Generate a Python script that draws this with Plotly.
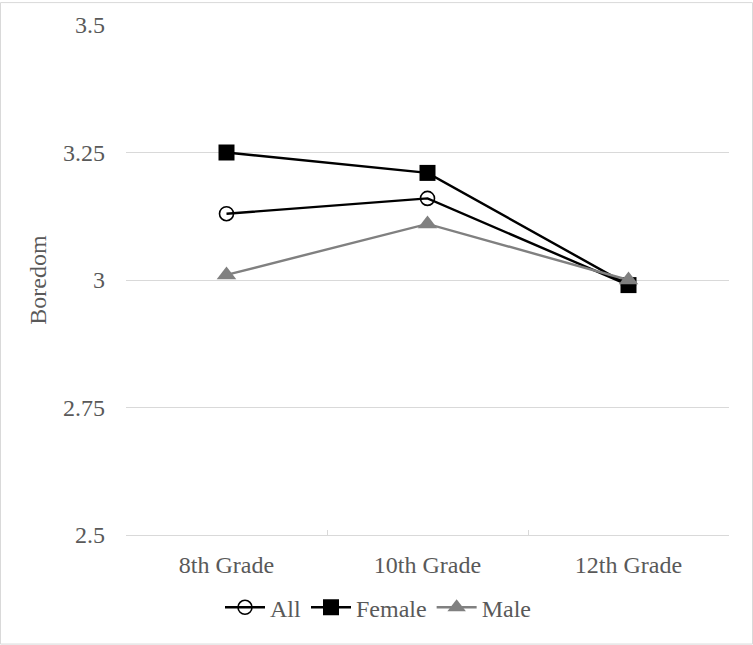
import plotly.graph_objects as go

categories = ["8th Grade", "10th Grade", "12th Grade"]
all_vals = [3.13, 3.16, 2.99]
female_vals = [3.25, 3.21, 2.99]
male_vals = [3.01, 3.11, 3.00]
y_ticks = [2.5, 2.75, 3, 3.25, 3.5]
y_tick_labels = ["2.5", "2.75", "3", "3.25", "3.5"]

W, H = 753, 645
L, R, T, B = 126, 24, 23, 110
pw, ph = W - L - R, H - T - B

font = dict(family="Liberation Serif, Times New Roman, serif", size=24, color="#595959")

fig = go.Figure()
fig.add_trace(go.Scatter(x=categories, y=all_vals, name="All", mode="lines+markers",
                         line=dict(color="black", width=2.4),
                         marker=dict(symbol="circle-open", size=14, color="black", line=dict(width=1.6))))
fig.add_trace(go.Scatter(x=categories, y=female_vals, name="Female", mode="lines+markers",
                         line=dict(color="black", width=2.4),
                         marker=dict(symbol="square", size=16, color="black")))
fig.add_trace(go.Scatter(x=categories, y=male_vals, name="Male", mode="lines+markers",
                         line=dict(color="#808080", width=2.4),
                         marker=dict(symbol="triangle-up", size=17, color="#808080")))

def px_to_paper_x(p):
    return (p - L) / pw

def px_to_paper_y(p):
    return (H - B - p) / ph

fig.update_layout(
    width=W, height=H,
    margin=dict(l=L, r=R, t=T, b=B),
    paper_bgcolor="white", plot_bgcolor="white",
    font=font,
    showlegend=True,
    legend=dict(orientation="h", x=px_to_paper_x(378), xanchor="center", y=px_to_paper_y(608),
                yanchor="middle", font=font, itemwidth=40, tracegroupgap=0,
                bgcolor="rgba(0,0,0,0)"),
    xaxis=dict(type="category", range=[-0.5, 2.5], showgrid=False, showline=True,
               linecolor="#d9d9d9", linewidth=1.3, ticks="inside", tickson="boundaries",
               ticklen=5, tickcolor="#d9d9d9", tickfont=font, zeroline=False,
               ticklabelstandoff=8),
    yaxis=dict(range=[2.5, 3.5], tickvals=y_ticks, ticktext=y_tick_labels, showgrid=True,
               gridcolor="#d9d9d9", gridwidth=1.3, showline=False, zeroline=False,
               ticks="", tickfont=font, ticklabelstandoff=20,
               title=dict(text="Boredom", font=font, standoff=9)),
    shapes=[dict(type="rect", xref="paper", yref="paper",
                 x0=px_to_paper_x(0.5), x1=px_to_paper_x(W - 0.5),
                 y0=px_to_paper_y(H - 0.5), y1=px_to_paper_y(0.5),
                 line=dict(color="#d9d9d9", width=1), layer="below")],
)

fig.write_html("out.html", config={"displayModeBar": False},
               post_script="document.body.style.margin='0';document.body.style.overflow='hidden';")
